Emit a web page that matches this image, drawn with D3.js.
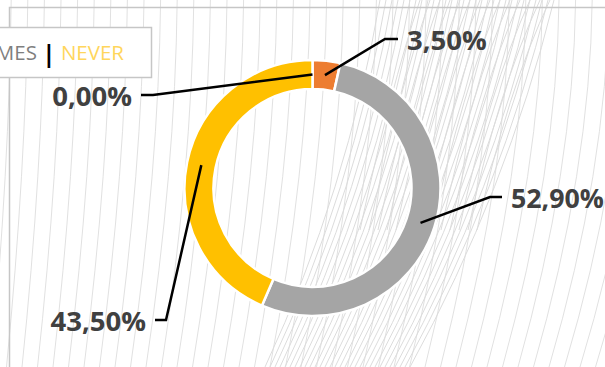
<!DOCTYPE html>
<html><head><meta charset="utf-8">
<script src="https://cdn.jsdelivr.net/npm/d3@7"></script>
<style>html,body{margin:0;padding:0;background:#fff;overflow:hidden}</style>
</head><body>
<svg id="chart" width="605" height="367"></svg>
<script>
// ---- data ----
const categories = ["ALWAYS", "OFTEN", "SOMETIMES", "NEVER"];
const values = [0.0, 3.5, 52.9, 43.5];
const sliceColors = ["#4472c4", "#ed7d31", "#a5a5a5", "#ffc000"];
const legendColors = ["#4472c4", "#ed7d31", "#7f7f7f", "#ffd65c"];

// ---- label layout (leader elbow / end points) ----
const labelLayout = [
  {elbow: [153, 95], end: [141, 95], anchor: "end"},
  {elbow: [385, 39], end: [398, 39], anchor: "start"},
  {elbow: [490, 197], end: [502, 197], anchor: "start"},
  {elbow: [166, 320], end: [155, 320], anchor: "end"}
];

const W = 605, H = 367;
const svg = d3.select("#chart");

// ---- decorative background ----
const bg = svg.append("g").attr("fill", "none").attr("stroke", "#e1e1e1").attr("stroke-width", 1);
for (let i = 0; i < 42; i++) {
  const xb = -40 + i * 15.5;
  const xt = xb + 18 + i * 1.1;
  const p = d3.path();
  p.moveTo(xb, H); p.quadraticCurveTo(xt - 2, 170, xt, 0);
  bg.append("path").attr("d", p.toString());
}
const bg2 = svg.append("g").attr("fill", "none").attr("stroke", "#dcdcdc").attr("stroke-width", 1);
for (let j = 0; j < 30; j++) {
  const xb = 265 + j * 5;
  const xt = 380 + j * 6;
  const p = d3.path();
  p.moveTo(xb, H); p.quadraticCurveTo((xb + xt) / 2 + 25, 190, xt, 0);
  bg2.append("path").attr("d", p.toString());
}
for (let j = 0; j < 14; j++) {
  const xb = 360 + j * 9;
  const xt = 420 + j * 10;
  const p = d3.path();
  p.moveTo(xb, 230); p.quadraticCurveTo(xb + 30, 90, xt, 0);
  bg2.append("path").attr("d", p.toString());
}

// ---- chart frame ----
svg.append("path").attr("d", `M9.5,${H}V7.5H${W}`)
  .attr("fill", "none").attr("stroke", "#c6c6c6").attr("stroke-width", 1.5);

// ---- donut ----
const cx = 312.5, cy = 188, rOuter = 128, rInner = 99;
const pie = d3.pie().sort(null).value(d => d);
const arcs = pie(values);
const arc = d3.arc().innerRadius(rInner).outerRadius(rOuter);
const labelArc = d3.arc().innerRadius((rInner + rOuter) / 2).outerRadius((rInner + rOuter) / 2);
const g = svg.append("g").attr("transform", `translate(${cx},${cy})`);
g.selectAll("path.slice").data(arcs).join("path")
  .attr("class", "slice")
  .attr("d", arc)
  .attr("fill", (d, i) => sliceColors[i])
  .attr("stroke", "#ffffff").attr("stroke-width", 2.5).attr("stroke-linejoin", "miter");

// ---- data labels ----
const fmt = v => d3.format(".2f")(v).replace(".", ",") + "%";
const lab = svg.append("g");
arcs.forEach((d, i) => {
  const c = labelArc.centroid(d);
  const L = labelLayout[i];
  const pts = [[cx + c[0], cy + c[1]], L.elbow, L.end];
  lab.append("path").attr("d", d3.line()(pts))
    .attr("fill", "none").attr("stroke", "#000").attr("stroke-width", 2.5);
  const tx = L.anchor === "end" ? L.end[0] - 9 : L.end[0] + 9;
  const t = lab.append("text").attr("x", tx).attr("y", L.end[1] + 10.5)
    .attr("text-anchor", L.anchor)
    .attr("font-family", "'Open Sans', sans-serif").attr("font-weight", 700)
    .attr("font-size", 27.5).attr("fill", "#404040")
    .text(fmt(values[i]));
  if (L.anchor === "start") {
    const w = t.node().getComputedTextLength();
    if (tx + w > W - 1) t.attr("textLength", W - 1 - tx).attr("lengthAdjust", "spacingAndGlyphs");
  }
});

// ---- legend ----
const leg = svg.append("g");
leg.append("rect").attr("x", -20).attr("y", 27.5).attr("width", 171.5).attr("height", 50)
  .attr("fill", "#fff").attr("stroke", "#c6c6c6").attr("stroke-width", 1.5);
let lx = 124;
for (let i = categories.length - 1; i >= 0 && lx > 0; i--) {
  const t = leg.append("text").attr("x", lx).attr("y", 60).attr("text-anchor", "end")
    .attr("font-family", "'Open Sans', sans-serif").attr("font-size", 20.5)
    .attr("fill", legendColors[i]).text(categories[i]);
  lx -= t.node().getComputedTextLength();
  if (i > 0 && lx > 0) {
    leg.append("text").attr("x", lx - 12).attr("y", 62).attr("text-anchor", "middle")
      .attr("font-family", "'Open Sans', sans-serif").attr("font-size", 24).attr("font-weight", 700)
      .attr("fill", "#000").text("|");
    lx -= 24;
  }
}
</script>
</body></html>
